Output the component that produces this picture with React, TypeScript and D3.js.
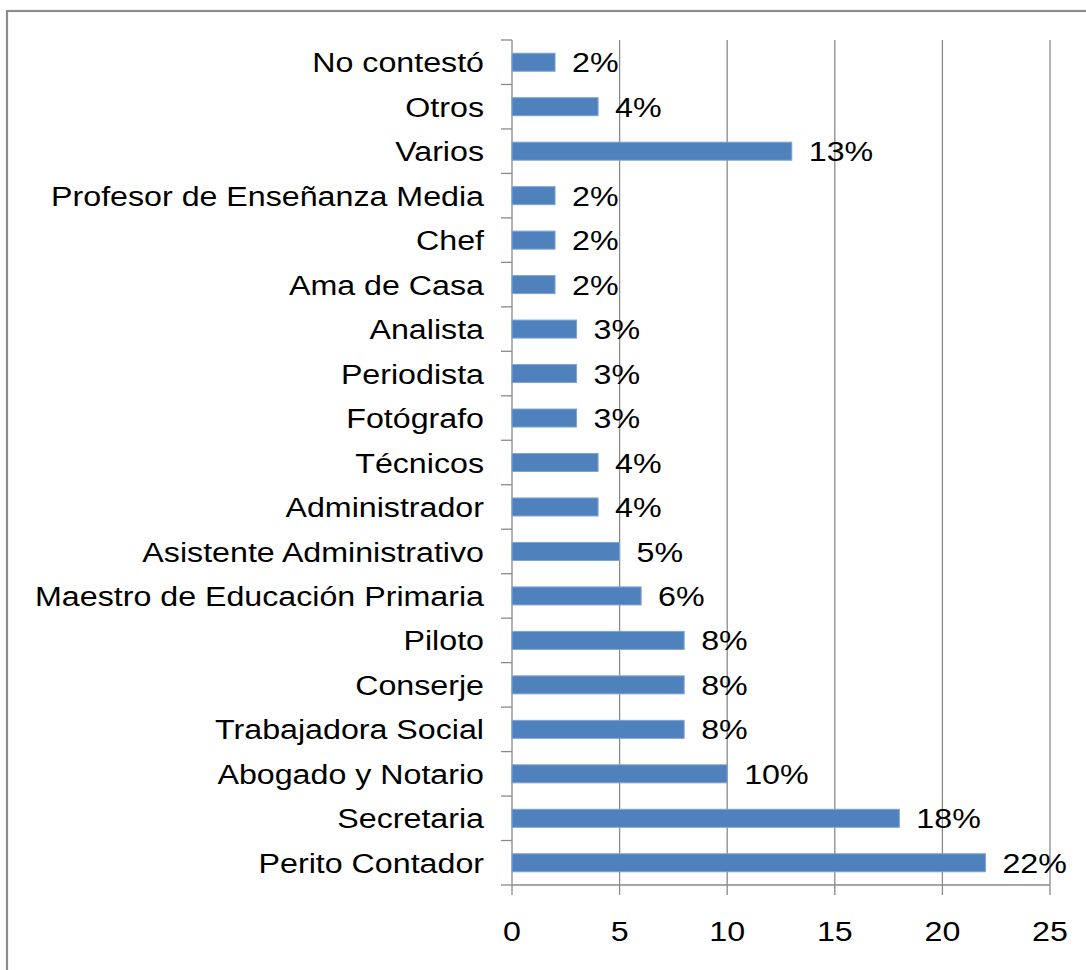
import React from "react";
import * as d3 from "d3";

const categories = [
  "Perito Contador",
  "Secretaria",
  "Abogado y Notario",
  "Trabajadora Social",
  "Conserje",
  "Piloto",
  "Maestro de Educación Primaria",
  "Asistente Administrativo",
  "Administrador",
  "Técnicos",
  "Fotógrafo",
  "Periodista",
  "Analista",
  "Ama de Casa",
  "Chef",
  "Profesor de Enseñanza Media",
  "Varios",
  "Otros",
  "No contestó",
];
const values = [22, 18, 10, 8, 8, 8, 6, 5, 4, 4, 3, 3, 3, 2, 2, 2, 13, 4, 2];
const labels = ["22%", "18%", "10%", "8%", "8%", "8%", "6%", "5%", "4%", "4%", "3%", "3%", "3%", "2%", "2%", "2%", "13%", "4%", "2%"];
const xTicks = [0, 5, 10, 15, 20, 25];

const W = 1086;
const H = 970;
const left = 512;
const right = 1050;
const top = 40;
const bottom = 885;
const font = "'Liberation Sans', Arial, sans-serif";
const fs = 28;
const sx = 1.15;

function T(props: { x: number; y: number; anchor: string; children: React.ReactNode; dy?: string }) {
  return (
    <text
      transform={`translate(${props.x},${props.y}) scale(${sx},1)`}
      dy={props.dy ?? "0"}
      textAnchor={props.anchor}
      fontFamily={font}
      fontSize={fs}
      fill="#000"
    >
      {props.children}
    </text>
  );
}

export default function App() {
  const x = d3.scaleLinear().domain([0, 25]).range([left, right]);
  const order = [...categories].reverse();
  const y = d3.scaleBand<string>().domain(order).range([top, bottom]).paddingInner(0.595).paddingOuter(0.2975);
  const yb = d3.scaleBand<string>().domain(order).range([top, bottom]);
  const boundaries = d3.range(categories.length + 1).map((i) => top + (i * (bottom - top)) / categories.length);

  return (
    <svg width={W} height={H} style={{ position: "absolute", left: 0, top: 0, background: "#fff" }}>
      <rect x={7} y={11} width={1200} height={1200} fill="#fff" stroke="#8c8c8c" strokeWidth={2.2} />
      {xTicks.slice(1).map((t) => (
        <line key={"g" + t} x1={x(t)} x2={x(t)} y1={top} y2={bottom} stroke="#8a8a8a" strokeWidth={1.3} />
      ))}
      <line x1={left} x2={left} y1={top} y2={bottom} stroke="#8a8a8a" strokeWidth={1.3} />
      {boundaries.map((b, i) => (
        <line key={"yt" + i} x1={left - 11} x2={left} y1={b} y2={b} stroke="#8a8a8a" strokeWidth={1.3} />
      ))}
      <line x1={left} x2={right} y1={bottom} y2={bottom} stroke="#8a8a8a" strokeWidth={1.3} />
      {xTicks.map((t) => (
        <g key={"xt" + t}>
          <line x1={x(t)} x2={x(t)} y1={bottom} y2={bottom + 10} stroke="#8a8a8a" strokeWidth={1.3} />
          <T x={x(t)} y={bottom + 56} anchor="middle">
            {t}
          </T>
        </g>
      ))}
      {categories.map((c, i) => {
        const yc = (yb(c) as number) + yb.bandwidth() / 2;
        return (
          <g key={c}>
            <rect
              x={x(0)}
              y={y(c) as number}
              width={x(values[i]) - x(0)}
              height={y.bandwidth()}
              fill="#4f81bd"
              stroke="#7fa3d3"
              strokeWidth={1}
            />
            <T x={left - 28} y={yc} dy="0.36em" anchor="end">
              {c}
            </T>
            <T x={x(values[i]) + 17} y={yc} dy="0.36em" anchor="start">
              {labels[i]}
            </T>
          </g>
        );
      })}
    </svg>
  );
}
